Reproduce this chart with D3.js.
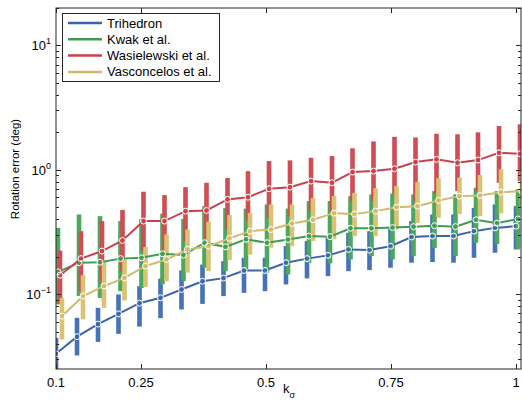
<!DOCTYPE html>
<html>
<head>
<meta charset="utf-8">
<script src="https://cdn.jsdelivr.net/npm/d3@7"></script>
<style>
body { margin: 0; background: #fff; }
text { font-family: "Liberation Sans", Arial, sans-serif; }
</style>
</head>
<body>
<script>
// k_sigma positions of the 23 measurement groups
var kSigma = [0.080, 0.122, 0.164, 0.205, 0.247, 0.289, 0.331, 0.373, 0.415, 0.456, 0.498, 0.540,
              0.582, 0.624, 0.665, 0.707, 0.749, 0.791, 0.833, 0.875, 0.916, 0.958, 1.000];
var xTickVals = [0.08, 0.25, 0.5, 0.75, 1];
var xTickLabels = ["0.1", "0.25", "0.5", "0.75", "1"];
var yTickExps = [-1, 0, 1];

var seriesNames = ["Trihedron", "Kwak et al.", "Wasielewski et al.", "Vasconcelos et al."];

// median rotation error (deg)
var trihedronMed = [0.0331, 0.0455, 0.0574, 0.0694, 0.0846, 0.0934, 0.109, 0.127, 0.1345, 0.155, 0.155, 0.179,
                    0.193, 0.205, 0.229, 0.226, 0.243, 0.288, 0.293, 0.293, 0.321, 0.341, 0.352];
var kwakMed = [0.151, 0.179, 0.1805, 0.193, 0.196, 0.211, 0.206, 0.259, 0.240, 0.276, 0.259, 0.275,
               0.293, 0.290, 0.339, 0.338, 0.343, 0.349, 0.355, 0.349, 0.396, 0.372, 0.402];
var wasiMed = [0.142, 0.193, 0.222, 0.270, 0.387, 0.387, 0.465, 0.471, 0.578, 0.602, 0.704, 0.725,
               0.811, 0.786, 0.958, 0.976, 1.019, 1.153, 1.213, 1.139, 1.197, 1.370, 1.345];
var vascMed = [0.0665, 0.0964, 0.116, 0.135, 0.168, 0.190, 0.229, 0.243, 0.281, 0.321, 0.331, 0.370,
               0.396, 0.448, 0.440, 0.465, 0.500, 0.510, 0.567, 0.614, 0.622, 0.661, 0.674];

// lower / upper ends of the spread bars
var trihedronLo = [0.0199, 0.0321, 0.0413, 0.0479, 0.0548, 0.0641, 0.0753, 0.0835, 0.0964, 0.1024, 0.1057, 0.1197,
                   0.1338, 0.1396, 0.153, 0.156, 0.163, 0.179, 0.181, 0.179, 0.196, 0.215, 0.229];
var trihedronHi = [0.0445, 0.0645, 0.0776, 0.0995, 0.116, 0.1332, 0.155, 0.1727, 0.184, 0.196, 0.196, 0.243,
                   0.267, 0.293, 0.311, 0.321, 0.341, 0.387, 0.437, 0.437, 0.494, 0.526, 0.510];
var kwakLo = [0.0827, 0.0964, 0.0932, 0.1057, 0.112, 0.120, 0.127, 0.163, 0.153, 0.158, 0.149, 0.144,
              0.179, 0.177, 0.190, 0.202, 0.190, 0.202, 0.235, 0.202, 0.259, 0.253, 0.229];
var kwakHi = [0.341, 0.437, 0.424, 0.387, 0.402, 0.443, 0.402, 0.510, 0.491, 0.487, 0.526, 0.487,
              0.560, 0.560, 0.614, 0.634, 0.642, 0.634, 0.674, 0.634, 0.716, 0.674, 0.697];
var wasiLo = [0.0845, 0.106, 0.127, 0.153, 0.222, 0.222, 0.267, 0.278, 0.333, 0.387, 0.414, 0.424,
              0.465, 0.465, 0.560, 0.560, 0.637, 0.560, 0.637, 0.674, 0.674, 0.786, 0.811];
var wasiHi = [0.224, 0.321, 0.387, 0.475, 0.666, 0.626, 0.725, 0.786, 0.858, 0.976, 1.175, 1.19,
              1.25, 1.289, 1.49, 1.69, 1.84, 1.82, 1.95, 1.93, 2.0, 2.25, 2.32];
var vascLo = [0.0432, 0.0627, 0.0776, 0.0889, 0.114, 0.127, 0.149, 0.153, 0.188, 0.208, 0.236, 0.243,
              0.267, 0.276, 0.293, 0.293, 0.331, 0.374, 0.411, 0.440, 0.424, 0.446, 0.48];
var vascHi = [0.0932, 0.142, 0.184, 0.190, 0.239, 0.302, 0.331, 0.382, 0.434, 0.45, 0.526, 0.526,
              0.595, 0.614, 0.652, 0.710, 0.739, 0.800, 0.857, 0.867, 0.908, 1.01, 0.995];

var lineColors = ["#3b63ae", "#3f9d52", "#c8424a", "#d3b96a"];
var barColors = ["#4672b9", "#4ca85e", "#cf4d53", "#d8c274"];
var xShift = [0, 2, 4, 6];

var series = [
    {name: seriesNames[0], med: trihedronMed, lo: trihedronLo, hi: trihedronHi},
    {name: seriesNames[1], med: kwakMed, lo: kwakLo, hi: kwakHi},
    {name: seriesNames[2], med: wasiMed, lo: wasiLo, hi: wasiHi},
    {name: seriesNames[3], med: vascMed, lo: vascLo, hi: vascHi}
];

var width = 522, height = 405;
var padL = 56, padR = 521, padT = 8, padB = 369;
var axisColor = "#262626";

var svg = d3.select("body").append("svg")
    .attr("width", width)
    .attr("height", height);

var x = d3.scaleLinear().domain([0.08, 1.01]).range([padL, padR]);
var y = d3.scaleLog().domain([0.025, 20]).range([padB, padT]);

svg.append("clipPath").attr("id", "plotclip")
    .append("rect")
    .attr("x", padL).attr("y", padT)
    .attr("width", padR - padL).attr("height", padB - padT);

var plot = svg.append("g").attr("clip-path", "url(#plotclip)");

// spread bars, drawn series by series
series.forEach(function(s, si) {
    plot.append("g").selectAll("rect")
        .data(kSigma)
        .enter()
        .append("rect")
        .attr("x", function(d) { return x(d) + xShift[si] - 2.3; })
        .attr("width", 4.6)
        .attr("y", function(d, i) { return y(s.hi[i]); })
        .attr("height", function(d, i) { return y(s.lo[i]) - y(s.hi[i]); })
        .style("fill", barColors[si]);
});

// median lines with markers
var line = d3.line();
series.forEach(function(s, si) {
    var pts = kSigma.map(function(d, i) { return [x(d) + xShift[si], y(s.med[i])]; });
    plot.append("path")
        .attr("d", line(pts))
        .style("fill", "none")
        .style("stroke", lineColors[si])
        .style("stroke-width", 2);
    plot.append("g").selectAll("circle")
        .data(pts)
        .enter()
        .append("circle")
        .attr("cx", function(d) { return d[0]; })
        .attr("cy", function(d) { return d[1]; })
        .attr("r", 3)
        .style("fill", "none")
        .style("stroke", "#fff")
        .style("stroke-width", 1);
});

// box
svg.append("rect")
    .attr("x", padL).attr("y", padT)
    .attr("width", padR - padL).attr("height", padB - padT)
    .style("fill", "none")
    .style("stroke", axisColor)
    .style("stroke-width", 1);

// x ticks (inward, bottom and top)
var axisG = svg.append("g").style("stroke", axisColor).style("stroke-width", 1);
xTickVals.forEach(function(v) {
    var px = Math.round(x(v)) + 0.5;
    axisG.append("line").attr("x1", px).attr("x2", px).attr("y1", padB).attr("y2", padB - 5);
    axisG.append("line").attr("x1", px).attr("x2", px).attr("y1", padT).attr("y2", padT + 5);
});
svg.selectAll(".xlab")
    .data(xTickVals)
    .enter()
    .append("text")
    .attr("class", "xlab")
    .attr("x", function(d) { return x(d); })
    .attr("y", 387)
    .attr("text-anchor", "middle")
    .style("font-size", "13px")
    .style("fill", "#000")
    .text(function(d, i) { return xTickLabels[i]; });

// y ticks: majors at decades, minors 2..9
var yMinor = [];
for (var e = -2; e <= 1; e++) {
    for (var m = 2; m <= 9; m++) {
        var v = m * Math.pow(10, e);
        if (v >= 0.025 && v <= 20) yMinor.push(v);
    }
}
yMinor.forEach(function(v) {
    var py = Math.round(y(v)) + 0.5;
    axisG.append("line").attr("x1", padL).attr("x2", padL + 3).attr("y1", py).attr("y2", py);
    axisG.append("line").attr("x1", padR).attr("x2", padR - 3).attr("y1", py).attr("y2", py);
});
yTickExps.forEach(function(ex) {
    var py = Math.round(y(Math.pow(10, ex))) + 0.5;
    axisG.append("line").attr("x1", padL).attr("x2", padL + 5).attr("y1", py).attr("y2", py);
    axisG.append("line").attr("x1", padR).attr("x2", padR - 5).attr("y1", py).attr("y2", py);
    var t = svg.append("text")
        .attr("x", 51)
        .attr("y", y(Math.pow(10, ex)) + 5)
        .attr("text-anchor", "end")
        .style("font-size", "13px")
        .style("fill", "#000");
    t.append("tspan").text("10");
    t.append("tspan").attr("dy", -6).style("font-size", "9px").text(ex < 0 ? "\u2212" + (-ex) : ex);
});

// axis labels
svg.append("text")
    .attr("transform", "translate(19,169) rotate(-90)")
    .attr("text-anchor", "middle")
    .style("font-size", "11.5px")
    .style("fill", "#000")
    .text("Rotation error (deg)");

var xl = svg.append("text")
    .attr("x", 283)
    .attr("y", 393)
    .style("font-size", "13px")
    .style("fill", "#000");
xl.append("tspan").text("k");
xl.append("tspan").attr("dy", 5).style("font-size", "9px").text("\u03c3");

// legend
var leg = svg.append("g");
leg.append("rect")
    .attr("x", 62.5).attr("y", 13.5)
    .attr("width", 157).attr("height", 68)
    .style("fill", "#fff")
    .style("stroke", axisColor)
    .style("stroke-width", 1);
var legRows = leg.selectAll(".row")
    .data(seriesNames)
    .enter()
    .append("g")
    .attr("class", "row")
    .attr("transform", function(d, i) { return "translate(0," + (23 + i * 16.3) + ")"; });
legRows.append("line")
    .attr("x1", 68).attr("x2", 102)
    .attr("y1", 0).attr("y2", 0)
    .style("stroke", function(d, i) { return lineColors[i]; })
    .style("stroke-width", 2.5);
legRows.append("text")
    .attr("x", 107)
    .attr("y", 4.5)
    .style("font-size", "13px")
    .style("fill", "#000")
    .text(function(d) { return d; });
</script>
</body>
</html>
